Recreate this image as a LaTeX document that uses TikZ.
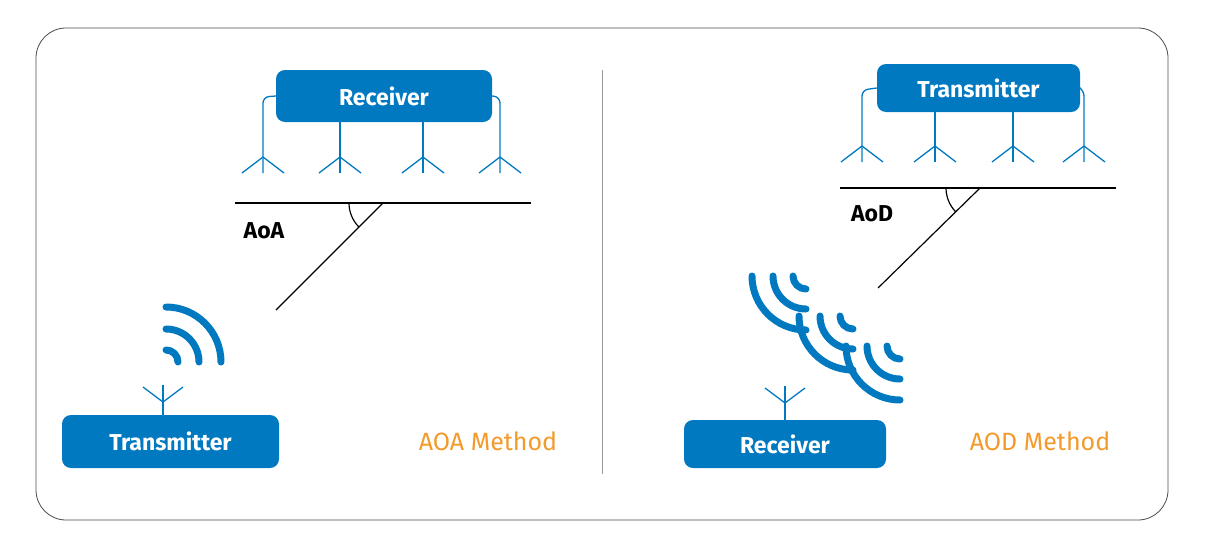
\documentclass[tikz,border=0pt]{standalone}
\usepackage{fontspec}
\setmainfont{Fira Sans}
\definecolor{boxblue}{HTML}{0079C1}
\definecolor{methodorange}{HTML}{F39A2B}
\tikzset{
  box/.style={fill=boxblue,rounded corners=9pt,text=white,font=\fontsize{23}{26}\selectfont\bfseries,inner sep=0pt},
  ant/.style={draw=boxblue,line width=1.3pt},
  wave/.style={draw=boxblue,line width=7pt,line cap=round},
  base/.style={draw=black,line width=1.6pt},
}
\begin{document}
\begin{tikzpicture}[x=1pt,y=-1pt]
   \useasboundingbox (0,0) rectangle (1212,546);
   \draw[black!70,line width=0.8pt,rounded corners=30pt] (36,28) rectangle (1168,520);
   \draw[black!40,line width=0.8pt] (602,70) -- (602,474);

   % AOA side
   \node[box,minimum width=216pt,minimum height=52pt] (rx) at (384,96) {Receiver};
   \node[box,minimum width=217pt,minimum height=53pt] (tx) at (170.5,441.5) {Transmitter};
   \foreach \x/\n in {263/1,340/2,423/3,500/4} {
     \coordinate (a\n) at (\x,173);
     \draw[ant] (\x,157) -- (\x-21,173) (\x,157) -- (\x+21,173);
   }
   \draw[ant] (a2) -- (a2 |- rx.south);
   \draw[ant] (a3) -- (a3 |- rx.south);
   \draw[ant,rounded corners=6pt] (a1) -- (263,97) -- (rx.west);
   \draw[ant,rounded corners=6pt] (a4) -- (500,97) -- (rx.east);
   \coordinate (ta) at (163,385);
   \draw[ant] (ta) -- (ta |- tx.north);
   \draw[ant] (163,402) -- (143,387) (163,402) -- (183,387);
   \foreach \r in {12,33,55}
     \draw[wave] (166,362-\r) arc[start angle=90,end angle=0,x radius=\r,y radius=-\r];

   \coordinate (l1) at (235,203);
   \coordinate (l2) at (531,203);
   \coordinate (aoa) at (383,203);
   \coordinate (aoa2) at (276,310);
   \draw[base] (l1) -- (l2);
   \draw[base,line width=1.2pt] (aoa) -- (aoa2);
   \draw[base,line width=1.2pt] (349,203) arc[start angle=180,end angle=225,x radius=34,y radius=-34];
   \node[font=\fontsize{23}{26}\selectfont\bfseries] (aoalbl) at (264,231) {AoA};
   \node[text=methodorange,font=\fontsize{25}{28}\selectfont] (aoam) at (488,441) {AOA Method};

   % AOD side
   \node[box,minimum width=203pt,minimum height=48pt] (tx2) at (978.5,88) {Transmitter};
   \node[box,minimum width=202pt,minimum height=48pt] (rx2) at (785,444) {Receiver};
   \foreach \x/\n in {862/1,935/2,1013/3,1084/4} {
     \coordinate (b\n) at (\x,162);
     \draw[ant] (\x,146) -- (\x-21,162) (\x,146) -- (\x+21,162);
   }
   \draw[ant] (b2) -- (b2 |- tx2.south);
   \draw[ant] (b3) -- (b3 |- tx2.south);
   \draw[ant,rounded corners=6pt] (b1) -- (862,90) -- (tx2.west);
   \draw[ant,rounded corners=6pt] (b4) -- (1084,90) -- (tx2.east);
   \coordinate (ra) at (785,386);
   \draw[ant] (ra) -- (ra |- rx2.north);
   \draw[ant] (785,403) -- (765,388) (785,403) -- (805,388);
   \foreach \cx/\cy in {806/276,853/316,900/346}
     \foreach \r in {13,33,54}
       \draw[wave] (\cx-\r,\cy) arc[start angle=180,end angle=270,x radius=\r,y radius=-\r];

   \coordinate (m1) at (840,188);
   \coordinate (m2) at (1116,188);
   \coordinate (aod) at (980,188);
   \coordinate (aod2) at (878,288);
   \draw[base] (m1) -- (m2);
   \draw[base,line width=1.2pt] (aod) -- (aod2);
   \draw[base,line width=1.2pt] (946,188) arc[start angle=180,end angle=225,x radius=34,y radius=-34];
   \node[font=\fontsize{23}{26}\selectfont\bfseries] (aodlbl) at (872,214) {AoD};
   \node[text=methodorange,font=\fontsize{25}{28}\selectfont] (aodm) at (1040,441) {AOD Method};
\end{tikzpicture}
\end{document}
